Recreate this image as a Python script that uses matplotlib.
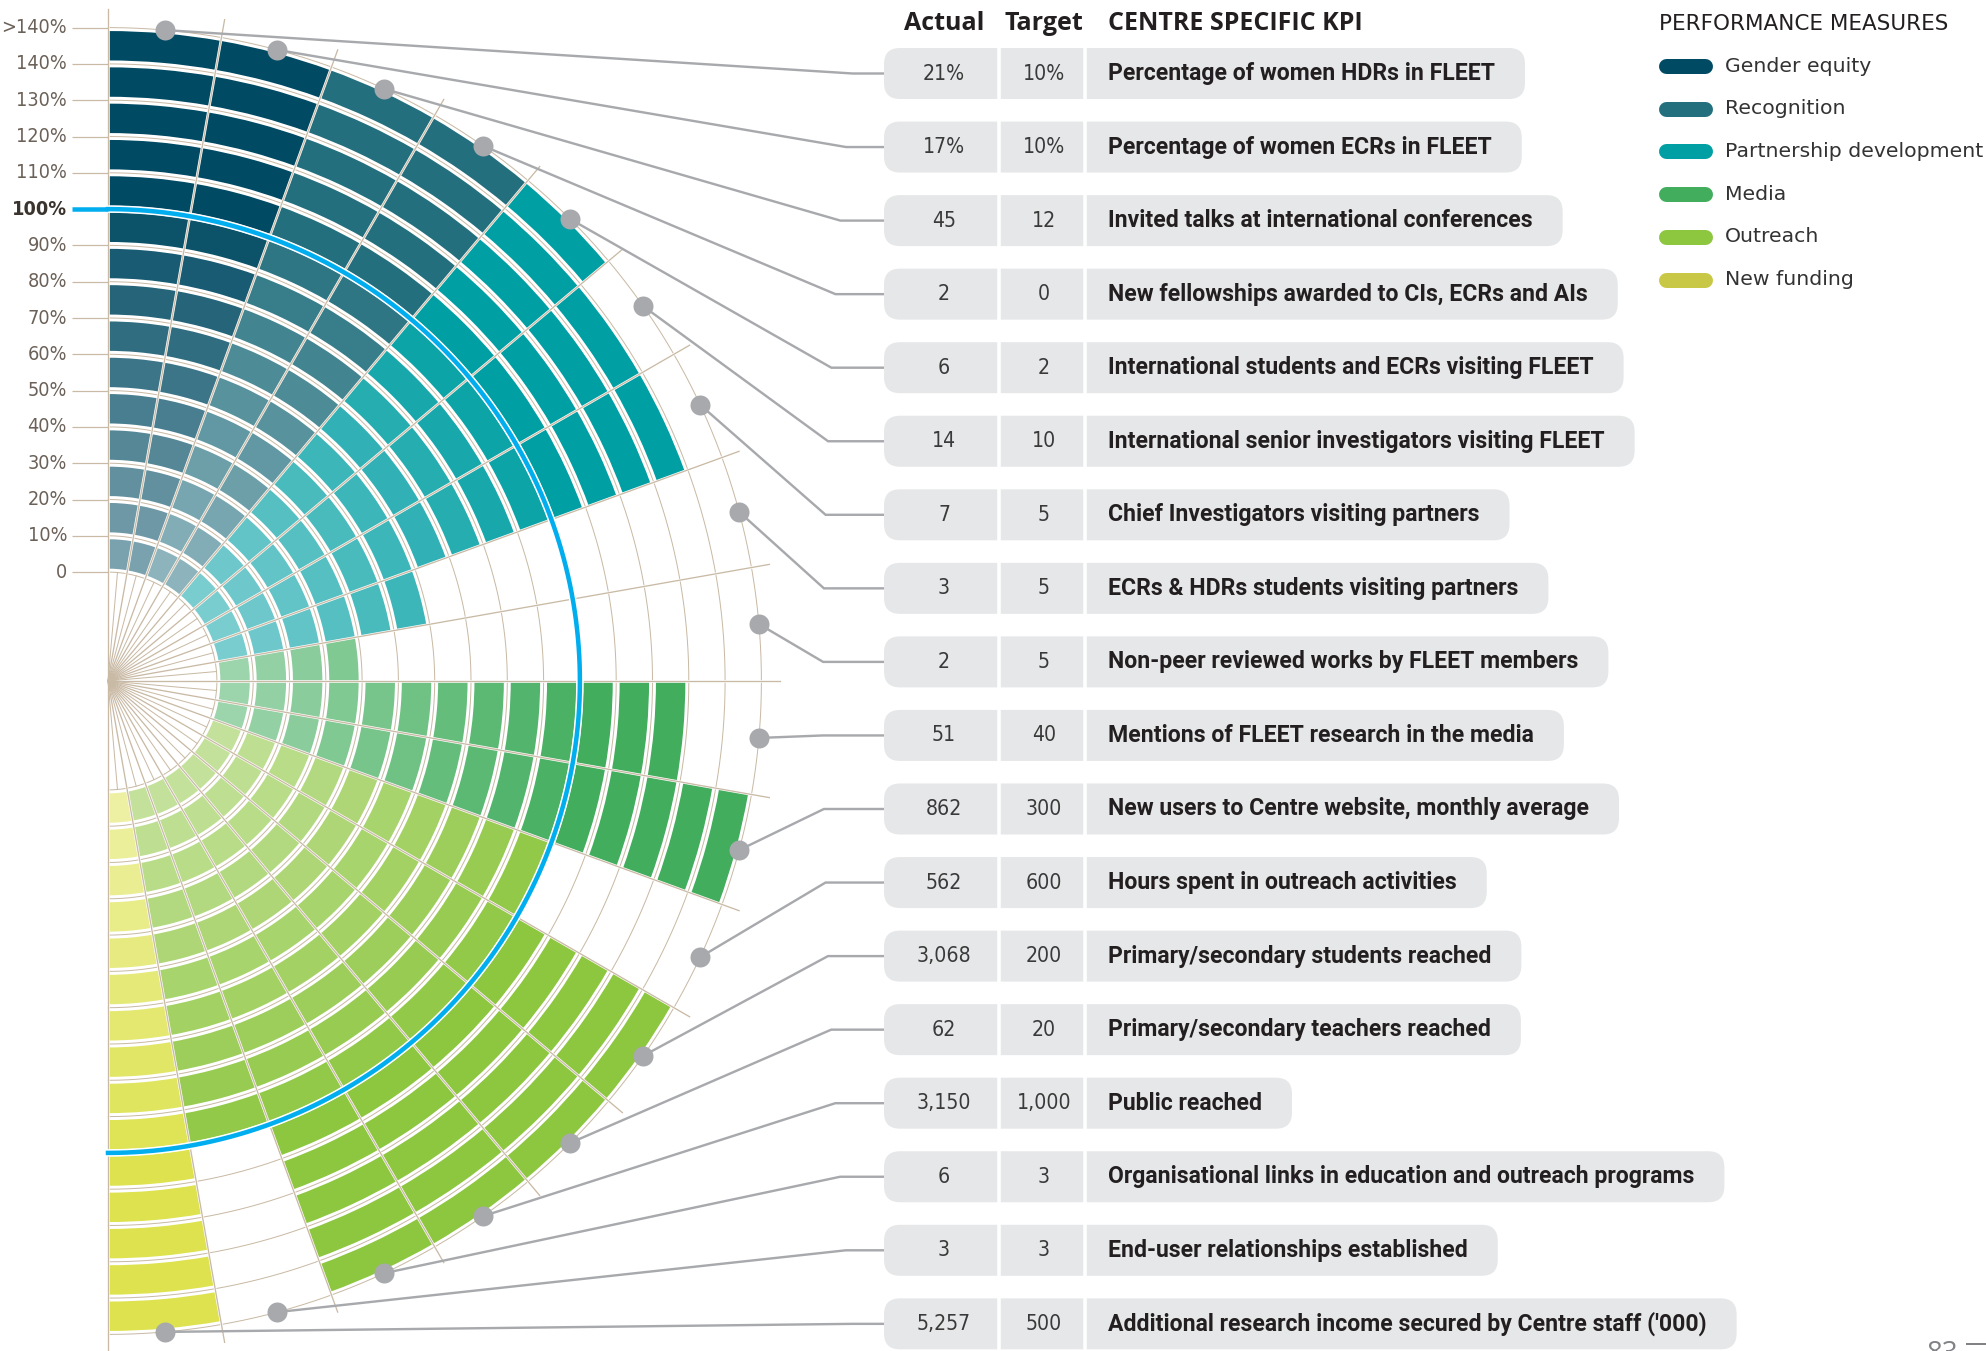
import math
import numpy as np
import matplotlib
matplotlib.use("Agg")
import matplotlib.pyplot as plt
from matplotlib import font_manager
from matplotlib.patches import FancyBboxPatch
from matplotlib.colors import to_rgb

W, H = 1986, 1351

# ---- data ----
categories = ["Gender equity", "Recognition", "Partnership development",
              "Media", "Outreach", "New funding"]
cat_colors = ["#004a63", "#236f7e", "#009fa3", "#41ad5d", "#8dc63f", "#dde24e"]
legend_colors = ["#004a63", "#236f7e", "#009fa3", "#41ad5d", "#8dc63f", "#c8c846"]

kpis = [
    "Percentage of women HDRs in FLEET",
    "Percentage of women ECRs in FLEET",
    "Invited talks at international conferences",
    "New fellowships awarded to CIs, ECRs and AIs",
    "International students and ECRs visiting FLEET",
    "International senior investigators visiting FLEET",
    "Chief Investigators visiting partners",
    "ECRs & HDRs students visiting partners",
    "Non-peer reviewed works by FLEET members",
    "Mentions of FLEET research in the media",
    "New users to Centre website, monthly average",
    "Hours spent in outreach activities",
    "Primary/secondary students reached",
    "Primary/secondary teachers reached",
    "Public reached",
    "Organisational links in education and outreach programs",
    "End-user relationships established",
    "Additional research income secured by Centre staff ('000)",
]
actual = ["21%", "17%", "45", "2", "6", "14", "7", "3", "2", "51", "862", "562",
          "3,068", "62", "3,150", "6", "3", "5,257"]
target = ["10%", "10%", "12", "0", "2", "10", "5", "5", "5", "40", "300", "600",
          "200", "20", "1,000", "3", "3", "500"]
kpi_cat = [0, 0, 1, 1, 2, 2, 2, 2, 3, 3, 3, 4, 4, 4, 4, 4, 4, 5]

ring_labels = ["0", "10%", "20%", "30%", "40%", "50%", "60%", "70%", "80%",
               "90%", "100%", "110%", "120%", "130%", "140%", ">140%"]


def num(s):
    return float(s.replace("%", "").replace(",", ""))


def n_segments(a, t):
    if num(t) == 0:
        return 15
    pct = num(a) / num(t) * 100
    return int(min(15, math.ceil(round(pct / 10, 6))))


def shade(col, k):
    # ring k (1-based): lighter towards the centre, full colour from 100%
    t = 0.48 * (11 - k) / 10 if k <= 10 else 0.0
    c = np.array(to_rgb(col))
    return tuple(c + (1 - c) * t)


fonts = font_manager.fontManager.ttflist
names = {f.name for f in fonts}


def pick(name, fallback="DejaVu Sans"):
    return name if name in names else fallback


# a condensed face for the numbers if one is around
if "Liberation Sans Narrow" in names:
    NARROW, STRETCH, NSCALE = "Liberation Sans Narrow", "normal", 1.0
elif any(f.name == "DejaVu Sans" and f.stretch == "condensed" for f in fonts):
    NARROW, STRETCH, NSCALE = "DejaVu Sans", "condensed", 0.95
else:
    NARROW, STRETCH, NSCALE = pick("Liberation Sans"), "normal", 0.88
KPI_FONT = pick("Roboto")
HEAD_FONT = pick("Open Sans")

TAN = "#c9baa5"
GREY = "#a7a9ac"
BLUE = "#00aeef"
PX = 0.72  # points per pixel at dpi 100

# ---- layout ----
STEP = 36.3        # pixels per 10 %
R0 = 3.0           # inner hole, in rings
CX, CY = 108, 681  # chart centre (pixels from top-left)
RAX = 700

fig = plt.figure(figsize=(W / 100, H / 100), dpi=100)
fig.patch.set_facecolor("white")

ov = fig.add_axes([0, 0, 1, 1], zorder=3)
ov.set_xlim(0, W)
ov.set_ylim(H, 0)
ov.set_axis_off()
ov.patch.set_alpha(0)

ax = fig.add_axes([(CX - RAX) / W, (H - CY - RAX) / H, 2 * RAX / W, 2 * RAX / H],
                  projection="polar", zorder=2)
ax.set_ylim(0, RAX / STEP)
ax.set_axis_off()

GAP = 0.19
wd = np.deg2rad(10)
for i in range(len(kpis)):
    th = np.deg2rad(85 - 10 * i)
    col = cat_colors[kpi_cat[i]]
    nseg = n_segments(actual[i], target[i])
    for k in range(nseg):
        ax.bar(th, 1 - GAP, width=wd, bottom=R0 + k + GAP / 2,
               color=shade(col, k + 1), edgecolor="none", linewidth=0, zorder=1)

# grid circles
tg = np.linspace(-np.pi / 2, np.pi / 2, 500)
for k in range(16):
    ax.plot(tg, np.full_like(tg, R0 + k), color=TAN, lw=1.0 * PX, zorder=2)

# inner spokes every 5 degrees, outer spokes every 10 degrees
for a in range(-85, 90, 10):
    ax.plot([np.deg2rad(a)] * 2, [0, R0], color=TAN, lw=1.0 * PX, zorder=2)
for a in range(-90, 91, 10):
    ax.plot([np.deg2rad(a)] * 2, [R0, 18.5], color="white", lw=2.6 * PX, zorder=3)
    ax.plot([np.deg2rad(a)] * 2, [0, 18.5], color=TAN, lw=1.3 * PX, zorder=3)

# 100 % target ring
ax.plot(tg, np.full_like(tg, R0 + 10), color="white", lw=7.5 * PX, zorder=4)
ax.plot(tg, np.full_like(tg, R0 + 10), color=BLUE, lw=4.5 * PX, zorder=5)


def to_px(theta, r):
    x, y = ax.transData.transform((theta, r))
    return x, H - y


# ring labels on the left
for k, lab in enumerate(ring_labels):
    _, y = to_px(np.pi / 2, R0 + k)
    bold = k == 10
    ov.plot([72, CX], [y, y], color=BLUE if bold else TAN,
            lw=(4.5 if bold else 1.2) * PX, solid_capstyle="butt", zorder=1)
    ov.text(67, y, lab, ha="right", va="center", fontsize=15 * NSCALE,
            family=NARROW, fontstretch=STRETCH,
            fontweight="bold" if bold else "normal",
            color="#3b332d" if bold else "#6b6158")

# ---- table ----
ROW0, ROWSTEP, ROWH = 73.5, 73.55, 51
PILL_X, SEP1, SEP2 = 884, 999, 1085
renderer = fig.canvas.get_renderer()

for label, x, ha in (("Actual", 944, "center"), ("Target", 1044, "center"),
                     ("CENTRE SPECIFIC KPI", 1108, "left")):
    ov.text(x, 23, label, ha=ha, va="center", fontsize=18,
            family=HEAD_FONT, fontweight="bold", color="#231f20")

for i in range(len(kpis)):
    y = ROW0 + i * ROWSTEP
    t = ov.text(1108, y, kpis[i], ha="left", va="center", fontsize=16.6,
                family=KPI_FONT, fontweight="bold", color="#231f20", zorder=4)
    bb = t.get_window_extent(renderer)
    right = bb.x1 + 30
    ov.add_patch(FancyBboxPatch((PILL_X, y - ROWH / 2), right - PILL_X, ROWH,
                                boxstyle="round,pad=0,rounding_size=16",
                                fc="#e6e7e8", ec="none", zorder=2))
    for sx in (SEP1, SEP2):
        ov.plot([sx, sx], [y - ROWH / 2, y + ROWH / 2], color="white",
                lw=3.5 * PX, zorder=3)
    for val, x in ((actual[i], 944), (target[i], 1044)):
        ov.text(x, y, val, ha="center", va="center", fontsize=16 * NSCALE,
                family=NARROW, fontstretch=STRETCH, color="#3a3a3a", zorder=4)

    # leader line from the dot on the outer ring to the row
    dx, dy = to_px(np.deg2rad(85 - 10 * i), R0 + 15)
    ex = 823 + 30 * ((y - 700) / 630) ** 2
    ov.plot([dx, ex, PILL_X], [dy, y, y], color=GREY, lw=2.4 * PX,
            solid_joinstyle="miter", zorder=1)
    ov.plot(dx, dy, "o", ms=20 * PX, color=GREY, mec="none", zorder=5)

# ---- legend ----
ov.text(1659, 24, "PERFORMANCE MEASURES", ha="left", va="center", fontsize=15.5,
        family="DejaVu Sans", color="#231f20")
for j, name in enumerate(categories):
    y = 66 + j * 42.7
    ov.plot([1666, 1705], [y, y], color=legend_colors[j], lw=15 * PX,
            solid_capstyle="round")
    ov.text(1725, y, name, ha="left", va="center", fontsize=14.7,
            family="DejaVu Sans", color="#333333")

# page number, cut by the page edge
ov.text(1927, 1340, "83", ha="left", va="top", fontsize=20, family=HEAD_FONT,
        color="#808285")
ov.plot([1967, 1986], [1344, 1344], color="#808285", lw=2 * PX)

fig.savefig("out.png", dpi=100, facecolor="white")
